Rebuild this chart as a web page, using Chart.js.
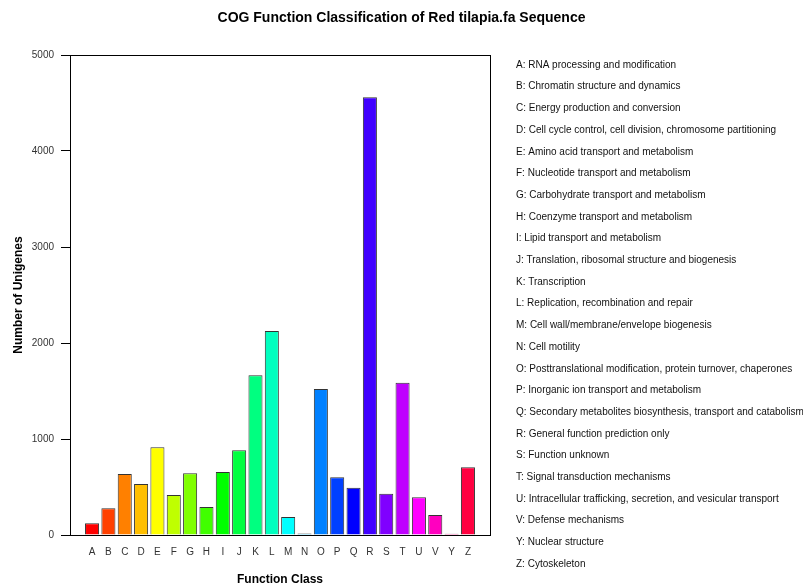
<!DOCTYPE html>
<html>
<head>
<meta charset="utf-8">
<script src="https://cdn.jsdelivr.net/npm/chart.js@4/dist/chart.umd.min.js"></script>
<style>
  html, body { margin: 0; padding: 0; background: #ffffff; }
  canvas { display: block; }
</style>
</head>
<body>
<canvas id="c" width="803" height="587"></canvas>
<script>
const categories = ['A','B','C','D','E','F','G','H','I','J','K','L','M','N','O','P','Q','R','S','T','U','V','Y','Z'];
const counts = [122, 278, 635, 531, 913, 417, 642, 292, 656, 882, 1663, 2125, 188, 15, 1521, 601, 493, 4560, 430, 1587, 393, 208, 14, 705];
const descriptions = [
  'A: RNA processing and modification',
  'B: Chromatin structure and dynamics',
  'C: Energy production and conversion',
  'D: Cell cycle control, cell division, chromosome partitioning',
  'E: Amino acid transport and metabolism',
  'F: Nucleotide transport and metabolism',
  'G: Carbohydrate transport and metabolism',
  'H: Coenzyme transport and metabolism',
  'I: Lipid transport and metabolism',
  'J: Translation, ribosomal structure and biogenesis',
  'K: Transcription',
  'L: Replication, recombination and repair',
  'M: Cell wall/membrane/envelope biogenesis',
  'N: Cell motility',
  'O: Posttranslational modification, protein turnover, chaperones',
  'P: Inorganic ion transport and metabolism',
  'Q: Secondary metabolites biosynthesis, transport and catabolism',
  'R: General function prediction only',
  'S: Function unknown',
  'T: Signal transduction mechanisms',
  'U: Intracellular trafficking, secretion, and vesicular transport',
  'V: Defense mechanisms',
  'Y: Nuclear structure',
  'Z: Cytoskeleton'
];
const yTicks = [0, 1000, 2000, 3000, 4000, 5000];
const barColors = ['#FF0000','#FF4000','#FF8000','#FFBF00','#FFFF00','#BFFF00','#80FF00','#40FF00',
                   '#00FF00','#00FF40','#00FF80','#00FFBF','#00FFFF','#00BFFF','#0080FF','#0040FF',
                   '#0000FF','#4000FF','#8000FF','#BF00FF','#FF00FF','#FF00BF','#FF0080','#FF0040'];

const FONT = '"Liberation Sans", Arial, Helvetica, sans-serif';
const X_MIN = -1.35, X_MAX = categories.length - 1 + 1.35;

const framePlugin = {
  id: 'frame',
  afterDatasetsDraw(chart) {
    const {ctx, chartArea: a} = chart;
    ctx.save();
    ctx.strokeStyle = '#000';
    ctx.lineWidth = 1;
    ctx.strokeRect(Math.round(a.left) + 0.5, Math.round(a.top) + 0.5,
                   Math.round(a.right - a.left), Math.round(a.bottom - a.top));
    ctx.restore();
  }
};

const descPlugin = {
  id: 'desc',
  afterDraw(chart) {
    const ctx = chart.ctx;
    ctx.save();
    ctx.font = '10px ' + FONT;
    ctx.fillStyle = '#111';
    ctx.textAlign = 'left';
    ctx.textBaseline = 'middle';
    descriptions.forEach((t, i) => ctx.fillText(t, 516, 65 + i * 21.7));
    ctx.restore();
  }
};

new Chart(document.getElementById('c'), {
  type: 'bar',
  data: {
    datasets: [{
      data: counts.map((v, i) => ({x: i, y: v})),
      backgroundColor: barColors,
      borderColor: '#333333',
      borderWidth: 1,
      barPercentage: 0.86,
      categoryPercentage: 1.0
    }]
  },
  options: {
    responsive: false,
    animation: false,
    layout: { padding: { left: 0, right: 0, top: 0, bottom: 0 } },
    plugins: {
      legend: { display: false },
      tooltip: { enabled: false },
      title: {
        display: true,
        text: 'COG Function Classification of Red tilapia.fa Sequence',
        color: '#000',
        font: { family: FONT, size: 14, weight: 'bold' },
        padding: { top: 10, bottom: 28.2 }
      }
    },
    scales: {
      x: {
        type: 'linear',
        offset: false,
        min: X_MIN,
        max: X_MAX,
        grid: { display: false, drawTicks: false, offset: false },
        border: { display: false },
        afterBuildTicks: (s) => {
          s.ticks = categories.map((c, i) => ({value: i}));
          s.min = X_MIN;
          s.max = X_MAX;
        },
        ticks: {
          autoSkip: false,
          maxRotation: 0,
          padding: 11,
          color: '#333',
          font: { family: FONT, size: 10 },
          callback: (v) => (Number.isInteger(v) && v >= 0 && v < categories.length) ? categories[v] : ''
        },
        title: {
          display: true,
          text: 'Function Class',
          color: '#000',
          font: { family: FONT, size: 12, weight: 'bold' },
          padding: { top: 4, bottom: 0 }
        },
        afterFit: (s) => { s.height = 52; }
      },
      y: {
        min: 0,
        max: 5000,
        grid: { display: true, drawOnChartArea: false, drawTicks: true, tickLength: 9, color: '#000', lineWidth: 1 },
        border: { display: false },
        afterBuildTicks: (s) => { s.ticks = yTicks.map(v => ({value: v})); },
        ticks: {
          padding: 7,
          color: '#333',
          font: { family: FONT, size: 10 },
          callback: (v) => String(v)
        },
        title: {
          display: true,
          text: 'Number of Unigenes',
          color: '#000',
          font: { family: FONT, size: 12, weight: 'bold' },
          padding: { top: 11, bottom: 4 }
        },
        afterFit: (s) => { s.width = 70; }
      },
      yR: {
        position: 'right',
        display: true,
        grid: { display: false, drawTicks: false },
        border: { display: false },
        ticks: { display: false },
        afterFit: (s) => { s.width = 313; }
      }
    }
  },
  plugins: [framePlugin, descPlugin]
});
</script>
</body>
</html>
